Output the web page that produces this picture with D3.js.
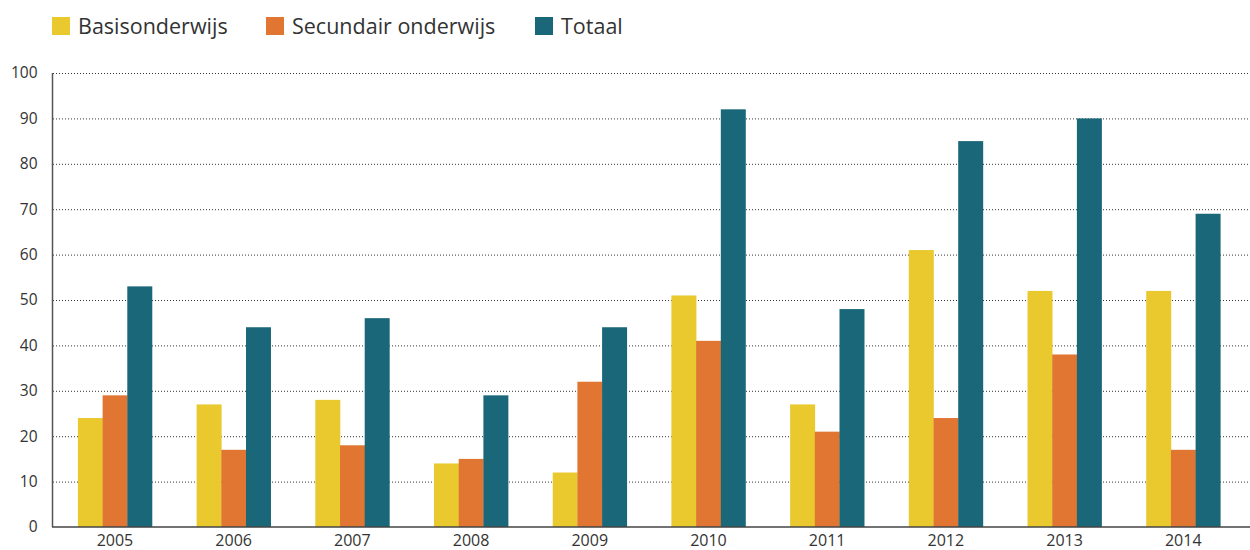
<!DOCTYPE html>
<html><head><meta charset="utf-8">
<script src="https://cdn.jsdelivr.net/npm/d3@7"></script>
<style>body{margin:0;background:#fff}svg{display:block;font-family:"Open Sans",sans-serif}</style>
</head><body><svg id="c" width="1250" height="550"></svg>
<script>
const years = ["2005","2006","2007","2008","2009","2010","2011","2012","2013","2014"];
const seriesNames = ["Basisonderwijs","Secundair onderwijs","Totaal"];
const basis = [24,27,28,14,12,51,27,61,52,52];
const secundair = [29,17,18,15,32,41,21,24,38,17];
const totaal = [53,44,46,29,44,92,48,85,90,69];
const yTicks = [0,10,20,30,40,50,60,70,80,90,100];
const colors = ["#E9C92E","#E07631","#1B677A"];

const svg = d3.select("#c");
const series = [basis, secundair, totaal];
const x = d3.scaleBand().domain(years).range([55.6,1242.6]).paddingInner(0.376).paddingOuter(0.188);
const xs = d3.scaleBand().domain(d3.range(3)).range([0,x.bandwidth()]);
const y = d3.scaleLinear().domain([0,100]).range([527,73]);

// gridlines
svg.append("g").selectAll("line").data(yTicks.filter(d=>d>0)).join("line")
  .attr("x1",53).attr("x2",1250).attr("y1",d=>y(d)+0.5).attr("y2",d=>y(d)+0.5)
  .attr("stroke","#333").attr("stroke-width",1).attr("stroke-dasharray","1,2");

// bars
const g = svg.append("g");
years.forEach((yr,i)=>{
  series.forEach((s,j)=>{
    g.append("rect").attr("x",x(yr)+xs(j)).attr("width",xs.bandwidth()+0.3)
      .attr("y",y(s[i])).attr("height",y(0)-y(s[i])).attr("fill",colors[j]);
  });
});

// axes
const ya = svg.append("g").attr("transform","translate(52.5,0)")
  .call(d3.axisLeft(y).tickValues(yTicks).tickSize(0).tickPadding(15));
ya.select(".domain").attr("stroke","#555").attr("stroke-width",1.5).attr("d","M0,73V527");
ya.selectAll("text").attr("font-size",15.5).attr("fill","#333").attr("font-family","Open Sans");

svg.append("line").attr("x1",52).attr("x2",1250).attr("y1",527).attr("y2",527).attr("stroke","#444").attr("stroke-width",1.5);

const xa = svg.append("g").attr("transform","translate(0,527)")
  .call(d3.axisBottom(x).tickSize(0).tickPadding(8));
xa.select(".domain").remove();
xa.selectAll("text").attr("font-size",16).attr("fill","#333").attr("font-family","Open Sans");

// legend
const legX = [52,266,535];
const lg = svg.append("g");
seriesNames.forEach((n,j)=>{
  lg.append("rect").attr("x",legX[j]).attr("y",17).attr("width",18).attr("height",18).attr("fill",colors[j]);
  lg.append("text").attr("x",legX[j]+26).attr("y",34).attr("font-size",21.5).attr("fill","#333").text(n);
});
</script></body></html>
